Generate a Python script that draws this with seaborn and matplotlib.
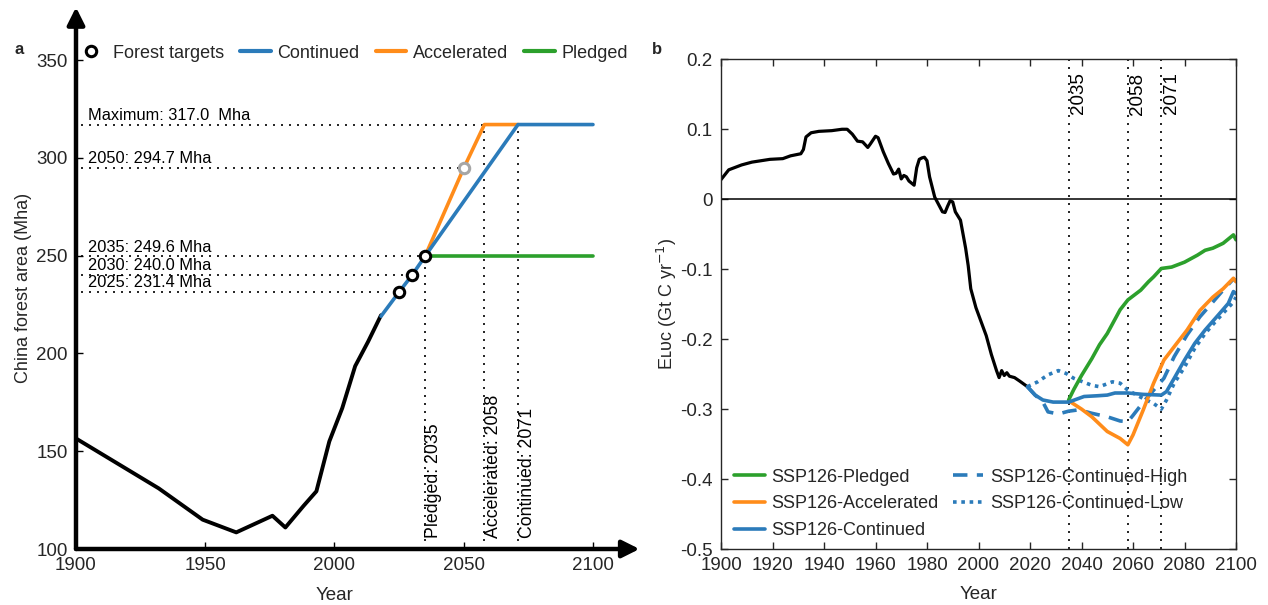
"""
China forest area pathways (a) and land-use change emissions (b).
"""

import numpy as np
import pandas as pd
import matplotlib
matplotlib.use('Agg')
import matplotlib.pyplot as plt
from matplotlib.lines import Line2D
import seaborn as sns

# ---------------- panel a: forest area (Mha) ----------------
hist_year = [1900, 1932, 1949, 1962, 1976, 1981, 1988, 1993, 1998, 2003, 2008, 2013, 2018]
hist_area = [156.5, 131.0, 115.0, 108.5, 117.0, 111.0, 122.0, 129.5, 155.0, 172.0, 193.5, 206.0, 219.5]

cont_year = [2018, 2025, 2030, 2035, 2071, 2100]
cont_area = [219.0, 231.4, 240.0, 249.6, 317.0, 317.0]
accel_year = [2035, 2050, 2058, 2071]
accel_area = [249.6, 294.7, 317.0, 317.0]
pledged_year = [2035, 2100]
pledged_area = [249.6, 249.6]

target_year = [2025, 2030, 2035]
target_area = [231.4, 240.0, 249.6]
target50_year = [2050]
target50_area = [294.7]

ref_labels = ['Maximum: 317.0  Mha', '2050: 294.7 Mha', '2035: 249.6 Mha',
              '2030: 240.0 Mha', '2025: 231.4 Mha']
ref_values = [317.0, 294.7, 249.6, 240.0, 231.4]
ref_ends = [2058, 2050, 2035, 2030, 2025]

peak_labels = ['Pledged: 2035', 'Accelerated: 2058', 'Continued: 2071']
peak_years = [2035, 2058, 2071]
peak_tops = [249.6, 317.0, 317.0]

# ---------------- panel b: ELUC (Gt C / yr) ----------------
eluc_year = [1900, 1903, 1908, 1912, 1919, 1924, 1927, 1931, 1932, 1933, 1935, 1938,
             1943, 1947, 1949, 1951, 1953, 1955, 1957, 1958, 1960, 1961, 1963, 1965,
             1967, 1968, 1969, 1970, 1971, 1972, 1973, 1975, 1976, 1977, 1978, 1979,
             1980, 1981, 1983, 1985, 1986, 1987, 1988, 1989, 1990, 1991, 1993, 1995,
             1996, 1997, 1999, 2001, 2003, 2005, 2007, 2008, 2009, 2010, 2011, 2012,
             2014, 2016, 2019]
eluc_hist = [0.028, 0.042, 0.049, 0.053, 0.057, 0.058, 0.062, 0.065, 0.071, 0.089, 0.095, 0.097,
             0.098, 0.100, 0.100, 0.093, 0.083, 0.082, 0.074, 0.079, 0.090, 0.088, 0.068, 0.051,
             0.036, 0.037, 0.043, 0.029, 0.034, 0.032, 0.026, 0.020, 0.045, 0.057, 0.059, 0.060,
             0.055, 0.032, 0.003, -0.011, -0.018, -0.019, -0.010, -0.002, -0.004, -0.018, -0.030, -0.070,
             -0.095, -0.128, -0.155, -0.175, -0.195, -0.222, -0.245, -0.255, -0.245, -0.252, -0.248, -0.253,
             -0.255, -0.260, -0.268]

ssp_cont_year = [2019, 2022, 2025, 2029, 2035, 2041, 2046, 2050, 2053, 2058, 2064, 2071, 2073,
                 2076, 2080, 2084, 2088, 2093, 2097, 2099, 2100]
ssp_cont = [-0.268, -0.280, -0.287, -0.290, -0.290, -0.282, -0.281, -0.280, -0.277, -0.277, -0.279,
            -0.280, -0.275, -0.256, -0.230, -0.206, -0.187, -0.166, -0.149, -0.132, -0.135]

ssp_pled_year = [2035, 2037, 2040, 2044, 2047, 2050, 2055, 2058, 2063, 2066, 2068, 2071, 2075,
                 2080, 2085, 2088, 2091, 2095, 2099, 2100]
ssp_pled = [-0.287, -0.272, -0.252, -0.228, -0.208, -0.192, -0.158, -0.144, -0.130, -0.118, -0.111,
            -0.099, -0.097, -0.090, -0.080, -0.073, -0.070, -0.063, -0.051, -0.058]

ssp_accel_year = [2035, 2040, 2044, 2050, 2055, 2058, 2060, 2064, 2068, 2072, 2077, 2081, 2086,
                  2091, 2095, 2099, 2100]
ssp_accel = [-0.288, -0.300, -0.311, -0.332, -0.342, -0.351, -0.337, -0.301, -0.263, -0.230, -0.206,
             -0.187, -0.159, -0.140, -0.128, -0.113, -0.118]

ssp_high_year = [2019, 2022, 2025, 2027, 2031, 2035, 2039, 2044, 2050, 2055, 2058, 2060, 2064,
                 2068, 2072, 2076, 2081, 2086, 2091, 2095, 2099, 2100]
ssp_high = [-0.268, -0.280, -0.290, -0.304, -0.307, -0.303, -0.301, -0.306, -0.311, -0.317, -0.318,
            -0.309, -0.290, -0.273, -0.256, -0.225, -0.194, -0.168, -0.147, -0.130, -0.114, -0.117]

ssp_low_year = [2019, 2023, 2027, 2031, 2034, 2037, 2044, 2047, 2052, 2055, 2058, 2064, 2068,
                2071, 2073, 2076, 2080, 2084, 2088, 2092, 2095, 2099, 2100]
ssp_low = [-0.268, -0.261, -0.251, -0.245, -0.249, -0.256, -0.266, -0.268, -0.261, -0.263, -0.273,
           -0.285, -0.292, -0.300, -0.287, -0.263, -0.240, -0.213, -0.192, -0.175, -0.163, -0.147, -0.140]

vline_years = [2035, 2058, 2071]
vline_labels = ['2035', '2058', '2071']

BLUE = '#2b7bba'
ORANGE = '#ff8c1a'
GREEN = '#2ca02c'
GREY_TXT = '#262626'
DOTTED = (0, (1.2, 3.6))

sns.set_theme(style='ticks')
plt.rcParams['font.family'] = ['Liberation Sans', 'DejaVu Sans']
plt.rcParams['axes.unicode_minus'] = False
plt.rcParams['xtick.direction'] = 'in'
plt.rcParams['ytick.direction'] = 'in'

W, H = 1268, 605
fig = plt.figure(figsize=(W / 100, H / 100), dpi=100)


def px_box(x0, y0, x1, y1):
    # pixel box (top-left origin) -> figure fraction rect
    return [x0 / W, 1 - y1 / H, (x1 - x0) / W, (y1 - y0) / H]


# ======================= panel a =======================
axa = fig.add_axes(px_box(76, 7.2, 639.5, 549))
axa.set_xlim(1900, 2118)
axa.set_ylim(100, 377)
for s in axa.spines.values():
    s.set_visible(False)

sns.lineplot(x=hist_year, y=hist_area, ax=axa, color='black', lw=2.8, sort=False, estimator=None)
sns.lineplot(x=accel_year, y=accel_area, ax=axa, color=ORANGE, lw=2.6, sort=False, estimator=None)
sns.lineplot(x=pledged_year, y=pledged_area, ax=axa, color=GREEN, lw=2.6, sort=False, estimator=None)
sns.lineplot(x=cont_year, y=cont_area, ax=axa, color=BLUE, lw=2.6, sort=False, estimator=None)

# reference dotted lines + labels
for lab, val, end in zip(ref_labels, ref_values, ref_ends):
    axa.plot([1902, end], [val, val], ls=DOTTED, color='black', lw=1.2, zorder=1)
    axa.text(1904.5, val + 4.8, lab, fontsize=11.8, ha='left', va='center', color='black')
for lab, yr, top in zip(peak_labels, peak_years, peak_tops):
    axa.plot([yr, yr], [100, top], ls=DOTTED, color='black', lw=1.2, zorder=1)
    axa.text(yr + 0.2, 105.5, lab, rotation=90, fontsize=12.8, ha='left', va='bottom',
             color='black')

axa.plot(target_year, target_area, 'o', ms=7.5, mfc='white', mec='black', mew=2.2, zorder=5)
axa.plot(target50_year, target50_area, 'o', ms=7.5, mfc='white', mec='#a6a6a6', mew=2.2, zorder=5)

# arrow axes
arrow_kw = dict(arrowstyle='-|>', lw=3.2, color='black', mutation_scale=26,
                shrinkA=0, shrinkB=0)
axa.annotate('', xy=(2118, 100), xytext=(1900, 100), arrowprops=arrow_kw,
             annotation_clip=False, zorder=6)
axa.annotate('', xy=(1900, 377), xytext=(1900, 100), arrowprops=arrow_kw,
             annotation_clip=False, zorder=6)

axa.set_xticks([1900, 1950, 2000, 2050, 2100])
axa.set_yticks([100, 150, 200, 250, 300, 350])
axa.tick_params(axis='both', labelsize=13.5, labelcolor=GREY_TXT, length=5, width=1,
                color='black', pad=6)
axa.set_xlabel('Year', fontsize=13.5, color=GREY_TXT)
axa.set_ylabel('China forest area (Mha)', fontsize=13, color=GREY_TXT)
axa.xaxis.set_label_coords((334.5 - 76) / 563.5, -0.07)
axa.yaxis.set_label_coords((32 - 76) / 563.5, (549 - 288) / 541.8)

handles_a = [
    Line2D([], [], ls='none', marker='o', ms=7.5, mfc='white', mec='black', mew=2.2),
    Line2D([], [], color=BLUE, lw=3),
    Line2D([], [], color=ORANGE, lw=3),
    Line2D([], [], color=GREEN, lw=3),
]
fig.legend(handles_a, ['Forest targets', 'Continued', 'Accelerated', 'Pledged'],
           loc='center left', bbox_to_anchor=(76 / W, 1 - 53 / H), ncol=4, frameon=False,
           fontsize=13, handlelength=1.7, handletextpad=0.35, columnspacing=0.9,
           borderpad=0, borderaxespad=0)

# ======================= panel b =======================
axb = fig.add_axes(px_box(721, 59.3, 1236, 549))
axb.set_xlim(1900, 2100)
axb.set_ylim(-0.5, 0.2)

axb.axhline(0, color='black', lw=1.1, zorder=1)
for yr, lab in zip(vline_years, vline_labels):
    axb.axvline(yr, ls=DOTTED, color='black', lw=1.2, zorder=1)
    axb.text(yr + 0.6, 0.181, lab, rotation=90, fontsize=13.5, ha='left', va='top',
             color='black')

sns.lineplot(x=eluc_year, y=eluc_hist, ax=axb, color='black', lw=2.3, sort=False, estimator=None)
sns.lineplot(x=ssp_low_year, y=ssp_low, ax=axb, color=BLUE, lw=2.6, sort=False, estimator=None,
             dashes=False, linestyle=(0, (1, 1.3)), label='SSP126-Continued-Low')
sns.lineplot(x=ssp_high_year, y=ssp_high, ax=axb, color=BLUE, lw=2.6, sort=False, estimator=None,
             linestyle=(0, (4, 2.6)), label='SSP126-Continued-High')
sns.lineplot(x=ssp_accel_year, y=ssp_accel, ax=axb, color=ORANGE, lw=2.6, sort=False,
             estimator=None, label='SSP126-Accelerated')
sns.lineplot(x=ssp_pled_year, y=ssp_pled, ax=axb, color=GREEN, lw=2.6, sort=False,
             estimator=None, label='SSP126-Pledged')
sns.lineplot(x=ssp_cont_year, y=ssp_cont, ax=axb, color=BLUE, lw=2.6, sort=False,
             estimator=None, label='SSP126-Continued')

for s in axb.spines.values():
    s.set_color('#262626')
    s.set_linewidth(1.0)
axb.set_xticks(np.arange(1900, 2101, 20))
axb.set_yticks([-0.5, -0.4, -0.3, -0.2, -0.1, 0.0, 0.1, 0.2])
axb.set_yticklabels(['-0.5', '-0.4', '-0.3', '-0.2', '-0.1', '0', '0.1', '0.2'])
axb.tick_params(axis='both', labelsize=13.5, labelcolor=GREY_TXT, length=5, width=1,
                color='#262626', top=True, right=True, pad=6)
axb.set_xlabel('Year', fontsize=13.5, color=GREY_TXT)
axb.set_ylabel('E\u029f\u1d1c\u1d04 (Gt C yr$^{-1}$)', fontsize=13, color=GREY_TXT)
axb.xaxis.set_label_coords(0.5, -0.075)
axb.yaxis.set_label_coords((679 - 721) / 515, 0.5)

hmap = {h.get_label(): h for h in axb.get_legend_handles_labels()[0]}
order = ['SSP126-Pledged', 'SSP126-Accelerated', 'SSP126-Continued',
         'SSP126-Continued-High', 'SSP126-Continued-Low']
axb.legend([hmap[k] for k in order], order, loc='center left',
           bbox_to_anchor=(734 / W, 1 - 504 / H), bbox_transform=fig.transFigure,
           ncol=2, frameon=False, fontsize=13, handlelength=1.7, handletextpad=0.35,
           columnspacing=0.8, labelspacing=0.55, borderpad=0, borderaxespad=0)

fig.text(14 / W, 1 - 50 / H, 'a', fontsize=12, fontweight='bold', va='center')
fig.text(652 / W, 1 - 50 / H, 'b', fontsize=12, fontweight='bold', va='center')

fig.savefig('out.png', dpi=100)
